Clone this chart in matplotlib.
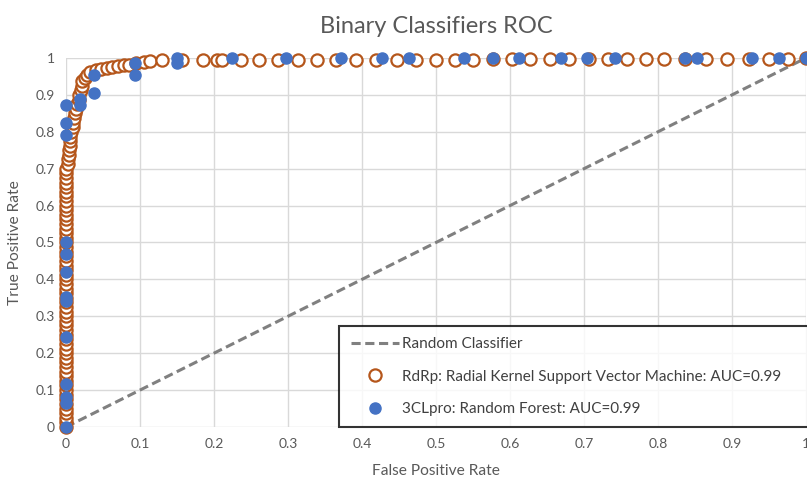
import matplotlib.pyplot as plt
from matplotlib.lines import Line2D

plt.rcParams['font.family'] = ['Lato', 'DejaVu Sans']

# RdRp: Radial Kernel SVM (open circles)
rdrp_fpr = [0.0] * 57 + [
    0.003, 0.003, 0.004, 0.004, 0.005, 0.005, 0.006, 0.007, 0.009, 0.010,
    0.011, 0.012, 0.014, 0.015, 0.017, 0.018, 0.020, 0.021, 0.022, 0.025,
    0.028, 0.033, 0.040, 0.047, 0.055, 0.062, 0.070, 0.078, 0.085, 0.095,
    0.105, 0.114, 0.130, 0.157, 0.185, 0.204, 0.211, 0.236, 0.261, 0.286,
    0.314, 0.339, 0.365, 0.392, 0.419, 0.447, 0.473, 0.500, 0.526, 0.550,
    0.577, 0.603, 0.627, 0.654, 0.680, 0.707, 0.732, 0.758, 0.784, 0.808,
    0.836, 0.865, 0.893, 0.923, 0.950, 0.976, 1.000]
rdrp_tpr = [
    0.000, 0.0125, 0.025, 0.0375, 0.050, 0.0625, 0.075, 0.0875, 0.100, 0.1125,
    0.125, 0.1375, 0.150, 0.1625, 0.175, 0.1875, 0.200, 0.2125, 0.225, 0.2375,
    0.250, 0.2625, 0.275, 0.2875, 0.300, 0.3125, 0.325, 0.3375, 0.350, 0.3625,
    0.375, 0.3875, 0.400, 0.4125, 0.425, 0.4375, 0.450, 0.4625, 0.475, 0.4875,
    0.500, 0.5125, 0.525, 0.5375, 0.550, 0.5625, 0.575, 0.5875, 0.600, 0.6125,
    0.625, 0.6375, 0.650, 0.6625, 0.675, 0.6875, 0.700,
    0.712, 0.725, 0.737, 0.750, 0.762, 0.775, 0.787, 0.800, 0.812, 0.825,
    0.837, 0.850, 0.862, 0.875, 0.887, 0.900, 0.912, 0.925, 0.937, 0.945,
    0.955, 0.962, 0.967, 0.970, 0.972, 0.975, 0.977, 0.980, 0.982, 0.985,
    0.990, 0.993, 0.995, 0.995, 0.995, 0.995, 0.995, 0.995, 0.995, 0.995,
    0.995, 0.995, 0.995, 0.995, 0.995, 0.995, 0.995, 0.995, 0.995, 0.995,
    0.997, 0.997, 0.997, 0.997, 0.997, 0.997, 0.997, 0.997, 0.997, 0.997,
    0.997, 0.997, 0.997, 0.997, 0.997, 0.997, 1.000]

# 3CLpro: Random Forest (filled dots)
cl_fpr = [0.0] * 13 + [
    0.019, 0.019, 0.038, 0.038, 0.093, 0.093, 0.150, 0.150,
    0.224, 0.297, 0.372, 0.427, 0.464, 0.538, 0.577, 0.612,
    0.669, 0.704, 0.742, 0.836, 0.853, 0.927, 0.964, 1.000]
cl_tpr = [
    0.000, 0.066, 0.082, 0.117, 0.244, 0.342, 0.353, 0.421, 0.469, 0.502,
    0.791, 0.825, 0.873,
    0.873, 0.888, 0.906, 0.954, 0.954, 0.987, 0.985, 1.000,
    1.0, 1.0, 1.0, 1.0, 1.0, 1.0, 1.0, 1.0,
    1.0, 1.0, 1.0, 1.0, 1.0, 1.0, 1.0, 1.0]

ticks = [0, 0.1, 0.2, 0.3, 0.4, 0.5, 0.6, 0.7, 0.8, 0.9, 1]
tick_labels = ['0', '0.1', '0.2', '0.3', '0.4', '0.5', '0.6', '0.7', '0.8', '0.9', '1']

brown = '#B5561B'
blue = '#4472C4'
text_gray = '#595959'

fig = plt.figure(figsize=(8.07, 4.79), dpi=100)
ax = fig.add_axes([0.0818, 0.1086, 0.917, 0.7704])

ax.plot([0, 1], [0, 1], linestyle=(0, (3, 1.5)), color='#808080', linewidth=2.2,
        zorder=2, clip_on=False)
ax.plot(rdrp_fpr, rdrp_tpr, linestyle='none', marker='o', markersize=8.8,
        markerfacecolor='white', markeredgecolor=brown, markeredgewidth=1.6,
        zorder=3, clip_on=False)
ax.plot(cl_fpr, cl_tpr, linestyle='none', marker='o', markersize=8,
        markerfacecolor=blue, markeredgecolor=blue, zorder=4, clip_on=False)

ax.set_xlim(0, 1)
ax.set_ylim(0, 1)
ax.set_xticks(ticks)
ax.set_xticklabels(tick_labels)
ax.set_yticks(ticks)
ax.set_yticklabels(tick_labels)
ax.tick_params(length=0, labelsize=10, colors=text_gray, pad=8)
ax.grid(True, color='#D9D9D9', linewidth=1)
ax.set_axisbelow(True)
for s in ax.spines.values():
    s.set_visible(False)

ax.set_title('Binary Classifiers ROC', fontsize=17, color=text_gray, pad=18)
ax.set_xlabel('False Positive Rate', fontsize=11.2, color=text_gray, labelpad=10)
ax.set_ylabel('True Positive Rate', fontsize=11.2, color=text_gray, labelpad=10)

handles = [
    Line2D([], [], linestyle=(0, (3, 1.5)), color='#808080', linewidth=2.2),
    Line2D([], [], linestyle='none', marker='o', markersize=8.8,
           markerfacecolor='white', markeredgecolor=brown, markeredgewidth=1.6),
    Line2D([], [], linestyle='none', marker='o', markersize=8,
           markerfacecolor=blue, markeredgecolor=blue),
]
labels = ['Random Classifier',
          'RdRp: Radial Kernel Support Vector Machine: AUC=0.99',
          '3CLpro: Random Forest: AUC=0.99']
leg = ax.legend(handles, labels, loc='upper left', mode='expand',
                bbox_to_anchor=(0.369, -0.003, 0.633, 0.277),
                fontsize=11, frameon=True, fancybox=False, edgecolor='black',
                handlelength=3.2, handletextpad=0.15, labelspacing=1.2,
                borderpad=0.75, borderaxespad=0, labelcolor='#404040')
leg.get_frame().set_linewidth(1.5)
leg.set_zorder(5)

fig.savefig('out.png', dpi=100)
